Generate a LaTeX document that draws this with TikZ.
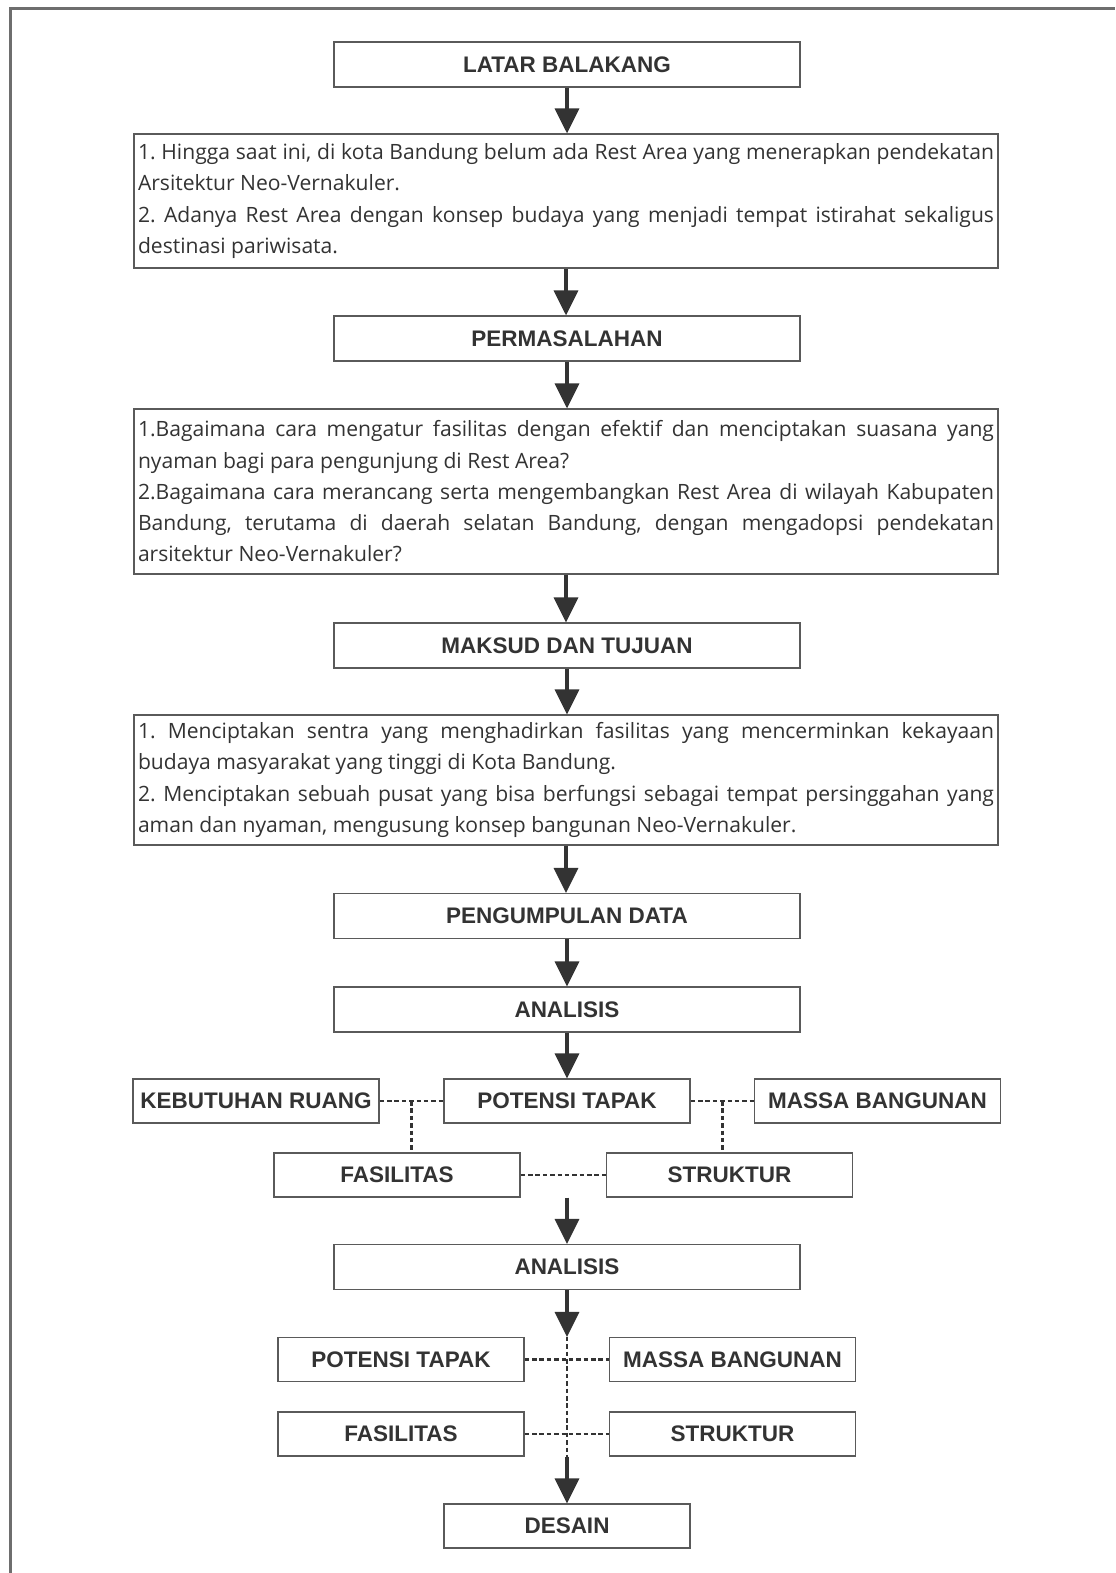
\documentclass[tikz,border=0pt]{standalone}
\usepackage{fontspec}
\setmainfont{Open Sans}
\newfontfamily\headfont{Liberation Sans}
\usetikzlibrary{arrows.meta, positioning, calc}
\definecolor{inkdark}{HTML}{333333}
\definecolor{inkbox}{HTML}{5A5A5A}
\definecolor{inkframe}{HTML}{6E6E6E}
\frenchspacing
\tikzset{
  headbox/.style={draw=inkbox, line width=0.7pt, minimum width=9.32cm,
    minimum height=0.9cm, inner sep=0pt, text=inkdark,
    font=\headfont\bfseries\fontsize{12.8pt}{14pt}\selectfont},
  smallbox/.style={headbox, minimum width=4.92cm, minimum height=0.88cm},
  textbox/.style={draw=inkbox, line width=0.7pt, text width=17.12cm,
    inner xsep=0.08cm, inner ysep=0pt, align=justify, text=inkdark,
    font=\fontsize{12pt}{17.8pt}\selectfont},
  flow/.style={inkdark, line width=1.9pt, -{Triangle[length=0.5cm, width=0.48cm]}},
  link/.style={inkdark, line width=1.5pt, dash pattern=on 2.6pt off 1.6pt},
}

\begin{document}
\begin{tikzpicture}
    \fill[white] (0,0) rectangle (22.3,-31.46);
    \useasboundingbox (0,0) rectangle (22.3,-31.46);
    \draw[inkframe, line width=1.2pt] (0.21,-31.46) -- (0.21,-0.17) -- (22.3,-0.17);
    % main column
    \foreach \n/\y/\t in {latar/-1.29/LATAR BALAKANG, masalah/-6.77/PERMASALAHAN,
      maksud/-12.91/MAKSUD DAN TUJUAN, data/-18.32/PENGUMPULAN DATA,
      analisisa/-20.19/ANALISIS, analisisb/-25.34/ANALISIS}{%
      \node[headbox] (\n) at (11.34,\y) {\t};}
    \node[textbox, minimum height=2.68cm] (latartext) at (11.32,-4.02)
      {1. Hingga saat ini, di kota Bandung belum ada Rest Area yang menerapkan pendekatan\linebreak
       Arsitektur Neo-Vernakuler.\\
       2. Adanya Rest Area dengan konsep budaya yang menjadi tempat istirahat sekaligus\linebreak
       destinasi pariwisata.};
    \node[textbox, minimum height=3.3cm] (masalahtext) at (11.32,-9.83)
      {1.Bagaimana cara mengatur fasilitas dengan efektif dan menciptakan suasana yang\linebreak
       nyaman bagi para pengunjung di Rest Area?\\
       2.Bagaimana cara merancang serta mengembangkan Rest Area di wilayah Kabupaten\linebreak
       Bandung, terutama di daerah selatan Bandung, dengan mengadopsi pendekatan\linebreak
       arsitektur Neo-Vernakuler?};
    \node[textbox, minimum height=2.6cm] (maksudtext) at (11.32,-15.6)
      {1. Menciptakan sentra yang menghadirkan fasilitas yang mencerminkan kekayaan\linebreak
       budaya masyarakat yang tinggi di Kota Bandung.\\
       2. Menciptakan sebuah pusat yang bisa berfungsi sebagai tempat persinggahan yang\linebreak
       aman dan nyaman, mengusung konsep bangunan Neo-Vernakuler.};
    % first analysis group
    \node[smallbox] (ruang) at (5.12,-22.02) {KEBUTUHAN RUANG};
    \node[smallbox] (tapak) at (11.34,-22.02) {POTENSI TAPAK};
    \node[smallbox] (massa) at (17.55,-22.02) {MASSA BANGUNAN};
    \node[smallbox] (fasilitas) at (7.94,-23.5) {FASILITAS};
    \node[smallbox] (struktur) at (14.59,-23.5) {STRUKTUR};
    % second analysis group
    \node[smallbox] (tapakb) at (8.02,-27.19) {POTENSI TAPAK};
    \node[smallbox] (massab) at (14.65,-27.19) {MASSA BANGUNAN};
    \node[smallbox] (fasilitasb) at (8.02,-28.68) {FASILITAS};
    \node[smallbox] (strukturb) at (14.65,-28.68) {STRUKTUR};
    \node[smallbox] (desain) at (11.34,-30.52) {DESAIN};
    % arrows
    \foreach \a/\b in {latar/latartext, latartext/masalah, masalah/masalahtext,
      masalahtext/maksud, maksud/maksudtext, maksudtext/data, data/analisisa,
      analisisa/tapak}{%
      \draw[flow] (\a.south) -- (\a.south |- \b.north);}
    \draw[flow] (analisisb.north |- fasilitas.south) -- (analisisb.north);
    \coordinate (tip) at (analisisb.south |- tapakb.north);
    \coordinate (resume) at (analisisb.south |- fasilitasb.south);
    \draw[flow] (analisisb.south) -- (tip);
    \draw[link] (tip) -- (resume);
    \draw[flow] (resume) -- (desain.north);
    % dashed links
    \coordinate (leftjoin) at ($(ruang.east)!0.5!(tapak.west)$);
    \coordinate (rightjoin) at ($(tapak.east)!0.5!(massa.west)$);
    \draw[link] (ruang.east) -- (tapak.west);
    \draw[link] (tapak.east) -- (massa.west);
    \draw[link] (leftjoin) -- (leftjoin |- fasilitas.north);
    \draw[link] (rightjoin) -- (rightjoin |- struktur.north);
    \draw[link] (fasilitas.east) -- (struktur.west);
    \draw[link] (tapakb.east) -- (massab.west);
    \draw[link] (fasilitasb.east) -- (strukturb.west);
  \end{tikzpicture}
\end{document}
